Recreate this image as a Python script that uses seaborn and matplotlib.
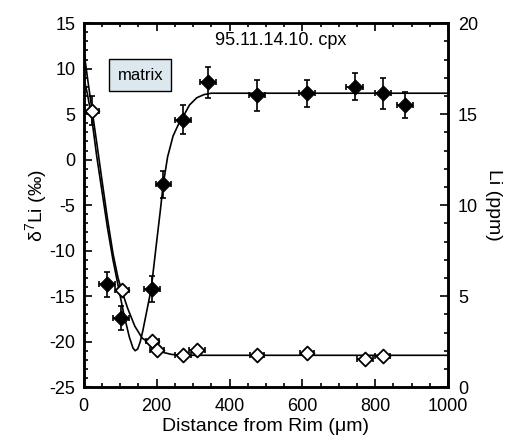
import numpy as np
import pandas as pd
import matplotlib
matplotlib.use("Agg")
import matplotlib.pyplot as plt
from matplotlib.ticker import MultipleLocator
import seaborn as sns

# measured d7Li (filled diamonds, left axis)
d7li_dist = [63, 102, 188, 218, 271, 342, 475, 613, 743, 820, 881]
d7li_val = [-13.7, -17.4, -14.2, -2.7, 4.4, 8.5, 7.1, 7.3, 8.0, 7.3, 6.0]
d7li_yerr = [1.4, 1.3, 1.4, 1.5, 1.6, 1.7, 1.7, 1.5, 1.5, 1.7, 1.4]
d7li_xerr = [22, 22, 22, 20, 22, 22, 22, 22, 22, 22, 22]

# measured Li concentration (open diamonds, right axis)
li_dist = [22, 105, 188, 201, 273, 312, 475, 613, 771, 820]
li_val = [15.2, 5.35, 2.55, 2.05, 1.75, 2.05, 1.75, 1.86, 1.53, 1.7]
li_yerr = [0.8, 0, 0, 0, 0, 0, 0, 0, 0, 0]
li_xerr = [20, 20, 18, 20, 22, 22, 20, 20, 22, 20]

# model curves
d7li_model_x = [0, 10, 22, 35, 50, 65, 80, 95, 110, 125, 135, 141, 148, 155, 162,
                172, 185, 200, 210, 218, 230, 245, 260, 271, 290, 310, 330, 350, 1000]
d7li_model_y = [9.0, 7.2, 4.5, 0.5, -3.5, -7.5, -11.0, -14.0, -17.0, -19.5, -20.7,
                -21.0, -20.8, -20.0, -18.8, -16.8, -14.2, -9.0, -5.6, -2.7, 0.3,
                2.6, 3.9, 4.6, 6.0, 6.8, 7.15, 7.3, 7.3]
li_model_x = [0, 10, 22, 35, 50, 65, 80, 94, 105, 120, 140, 160, 175, 190, 205,
              220, 240, 270, 1000]
li_model_y = [18.5, 17.0, 15.3, 13.5, 11.35, 9.25, 7.35, 6.0, 5.25, 4.35, 3.35,
              2.7, 2.5, 2.3, 2.05, 1.9, 1.8, 1.75, 1.75]

sns.set_style("ticks")
plt.rcParams["font.family"] = ["Liberation Sans", "DejaVu Sans"]
plt.rcParams["mathtext.fontset"] = "custom"
plt.rcParams["mathtext.rm"] = "Liberation Sans"
plt.rcParams["mathtext.it"] = "Liberation Sans"
plt.rcParams["axes.unicode_minus"] = False
for key in ["text.color", "axes.labelcolor", "xtick.color", "ytick.color",
            "axes.edgecolor"]:
    plt.rcParams[key] = "black"

fig = plt.figure(figsize=(5.11, 4.45), dpi=100)
ax = fig.add_axes([0.164, 0.130, 0.713, 0.818])
ax2 = ax.twinx()

d7 = pd.DataFrame({"x": d7li_dist, "y": d7li_val})
li = pd.DataFrame({"x": li_dist, "y": li_val})
m1 = pd.DataFrame({"x": d7li_model_x, "y": d7li_model_y})
m2 = pd.DataFrame({"x": li_model_x, "y": li_model_y})

sns.lineplot(data=m1, x="x", y="y", ax=ax, color="black", lw=1.2, sort=False)
sns.lineplot(data=m2, x="x", y="y", ax=ax2, color="black", lw=1.2, sort=False)

ax.errorbar(d7li_dist, d7li_val, yerr=d7li_yerr, xerr=d7li_xerr, fmt="none",
            ecolor="black", elinewidth=1.2, capsize=2.5, capthick=1.2, zorder=3)
ax2.errorbar(li_dist, li_val, yerr=li_yerr, xerr=li_xerr, fmt="none",
             ecolor="black", elinewidth=1.2, capsize=2.5, capthick=1.2, zorder=3)

sns.scatterplot(data=d7, x="x", y="y", ax=ax, marker="D", s=60, color="black",
                edgecolor="black", zorder=4)
sns.scatterplot(data=li, x="x", y="y", ax=ax2, marker="D", s=50, color="white",
                edgecolor="black", linewidth=1.3, zorder=4)

ax.set_xlim(0, 1000)
ax.set_ylim(-25, 15)
ax2.set_ylim(0, 20)

ax.xaxis.set_major_locator(MultipleLocator(200))
ax.xaxis.set_minor_locator(MultipleLocator(50))
ax.yaxis.set_major_locator(MultipleLocator(5))
ax.yaxis.set_minor_locator(MultipleLocator(1))
ax2.yaxis.set_major_locator(MultipleLocator(5))
ax2.yaxis.set_minor_locator(MultipleLocator(1))

ax.tick_params(axis="both", which="both", direction="in", top=True, right=False,
               labelsize=13, width=1.2)
ax.tick_params(axis="x", which="major", pad=8)
ax.tick_params(axis="y", which="major", pad=6)
ax.tick_params(which="major", length=6)
ax.tick_params(which="minor", length=3)
ax2.tick_params(axis="y", which="both", direction="in", labelsize=13, width=1.2)
ax2.tick_params(which="major", length=6, pad=7)
ax2.tick_params(which="minor", length=3)

for a in (ax, ax2):
    for sp in a.spines.values():
        sp.set_visible(True)
        sp.set_linewidth(1.8)

ax.set_xlabel("Distance from Rim (\u03bcm)", fontsize=14, labelpad=2)
ax.set_ylabel("\u03b4$^7$Li (\u2030)", fontsize=14, labelpad=0)
ax2.set_ylabel("Li (ppm)", fontsize=14, rotation=270, labelpad=17)

ax.text(541, 13.1, "95.11.14.10. cpx", ha="center", va="center", fontsize=13)
ax.text(155, 9.3, "matrix", ha="center", va="center", fontsize=12,
        bbox=dict(boxstyle="square,pad=0.5", facecolor="#dce8ee",
                  edgecolor="black", linewidth=1.0))

fig.savefig("out.png", dpi=100)
